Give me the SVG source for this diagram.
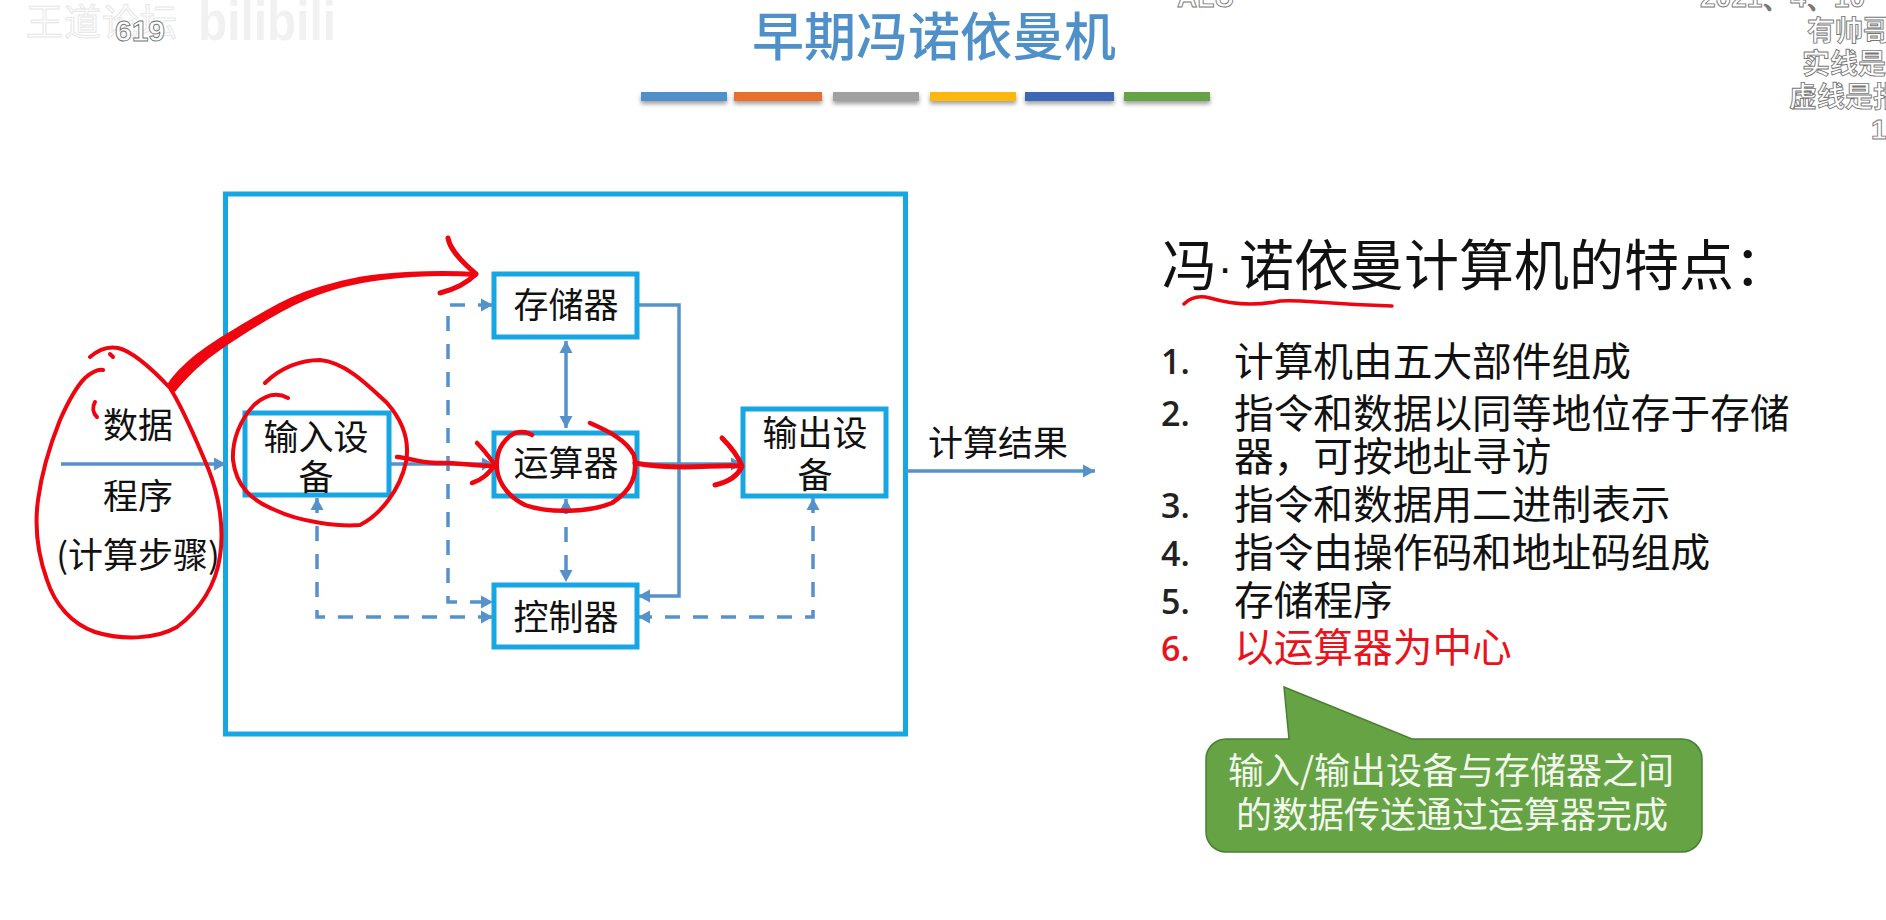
<svg xmlns="http://www.w3.org/2000/svg" width="1886" height="920" viewBox="0 0 1886 920">
<defs>
<style>
text{font-family:"Noto Sans CJK SC","Noto Sans",sans-serif;fill:#111}
.box{fill:#fff;stroke:#16a6e2;stroke-width:5}
.t35{font-size:35px;text-anchor:middle}
.li{font-size:39.7px}
.num{font-size:34px;font-family:"Open Sans","Liberation Sans",sans-serif;font-weight:600;fill:#222}
.ln{fill:none;stroke:#5592cc;stroke-width:3.5}
.da{stroke-dasharray:15 13}
.ar{marker-end:url(#ah)}
.ab{marker-start:url(#as);marker-end:url(#ah)}
.red{fill:none;stroke:#ee0510;stroke-width:4;stroke-linecap:round;stroke-linejoin:round}
.wm{fill:#fff;stroke:#777;stroke-width:.9;font-weight:700;font-size:28px}
.bar{filter:url(#sh)}
</style>
<marker id="ah" markerUnits="userSpaceOnUse" markerWidth="14" markerHeight="14" refX="12" refY="7" orient="auto"><path d="M0 0.5L12 7L0 13.5Z" fill="#5592cc"/></marker>
<marker id="as" markerUnits="userSpaceOnUse" markerWidth="14" markerHeight="14" refX="0" refY="7" orient="auto"><path d="M12 0.5L0 7L12 13.5Z" fill="#5592cc"/></marker>
<filter id="sh" x="-10%" y="-50%" width="120%" height="220%"><feDropShadow dx="0" dy="3" stdDeviation="2" flood-color="#777" flood-opacity=".7"/></filter>
</defs>
<rect width="1886" height="920" fill="#fff"/>

<g id="watermark">
<text x="26" y="36" style="font-size:37px;fill:#fff;stroke:#e6e6e6;stroke-width:1;letter-spacing:1px">王道论坛</text>
<text x="198" y="40" textLength="138" lengthAdjust="spacingAndGlyphs" style="font-family:'Liberation Sans',sans-serif;font-size:56px;font-weight:700;fill:#f1f1f1">bilibili</text>
<text x="115" y="41" class="wm" style="font-family:'Liberation Sans',sans-serif;font-size:30px">619</text>
<text x="1177" y="7" class="wm" style="font-family:'Liberation Sans',sans-serif">ALU</text>
<text x="1700" y="7" class="wm" style="font-family:'Liberation Sans',sans-serif">2021、4、10</text>
<text x="1807" y="41" class="wm">有帅哥</text>
<text x="1802" y="74" class="wm">实线是</text>
<text x="1789" y="107" class="wm">虚线是指</text>
<text x="1871" y="139" class="wm" style="font-family:'Liberation Sans',sans-serif">18</text>
</g>

<g id="title">
<text x="934" y="56" style="font-size:52px;font-weight:500;text-anchor:middle;fill:#5090c9">早期冯诺依曼机</text>
<rect class="bar" x="641" y="92" width="86" height="9" fill="#4f8fca"/>
<rect class="bar" x="734" y="92" width="88" height="9" fill="#e8702f"/>
<rect class="bar" x="833" y="92" width="86" height="9" fill="#a0a0a0"/>
<rect class="bar" x="930" y="92" width="86" height="9" fill="#fdb811"/>
<rect class="bar" x="1025" y="92" width="89" height="9" fill="#3c66b4"/>
<rect class="bar" x="1124" y="92" width="86" height="9" fill="#65a345"/>
</g>

<g id="computer"><rect x="225.500" y="194" width="680" height="540" fill="#fff" stroke="#16a6e2" stroke-width="5"/></g>

<g id="connectors">
<path class="ln ar" d="M61 464H226"/>
<path class="ln ar" d="M389 464H494"/>
<path class="ln ar" d="M637 464H743"/>
<path class="ln ar" d="M906 471H1095"/>
<path class="ln ar" d="M637 305H679V596H638"/>
<path class="ln ab" d="M566 341V428"/>
<path class="ln ab da" d="M566 499V582"/>
<path class="ln ab da" d="M493 305H448V602H493"/>
<path class="ln ab da" d="M317 498V617H493"/>
<path class="ln ab da" d="M813 498V617H638"/>
</g>

<g id="input-data">
<text x="138" y="438" class="t35">数据</text>
<text x="138" y="509" class="t35">程序</text>
<text x="138" y="568" class="t35">(计算步骤)</text>
</g>
<g id="node-input"><rect class="box" x="245" y="413" width="144" height="82"/><text x="316" y="450" class="t35">输入设</text><text x="316" y="490" class="t35">备</text></g>
<g id="node-memory"><rect class="box" x="494" y="274" width="143" height="63"/><text x="566" y="318" class="t35">存储器</text></g>
<g id="node-alu"><rect class="box" x="494" y="433" width="143" height="63"/><text x="566" y="476" class="t35">运算器</text></g>
<g id="node-control"><rect class="box" x="494" y="585" width="143" height="62"/><text x="566" y="630" class="t35">控制器</text></g>
<g id="node-output"><rect class="box" x="743" y="409" width="143" height="87"/><text x="815" y="446" class="t35">输出设</text><text x="815" y="488" class="t35">备</text></g>
<text x="998" y="456" class="t35">计算结果</text>

<g id="features">
<text x="1162" y="285" style="font-size:55px">冯</text>
<text x="1225" y="283" style="font-size:44px;text-anchor:middle;font-family:'Liberation Sans',sans-serif">·</text>
<text x="1239" y="285" style="font-size:55px">诺依曼计算机的特点：</text>
<text class="num" x="1161" y="374">1.</text><text class="li" x="1234" y="376">计算机由五大部件组成</text>
<text class="num" x="1161" y="426">2.</text><text class="li" x="1234" y="428">指令和数据以同等地位存于存储</text>
<text class="li" x="1234" y="471">器，可按地址寻访</text>
<text class="num" x="1161" y="518">3.</text><text class="li" x="1234" y="519">指令和数据用二进制表示</text>
<text class="num" x="1161" y="566">4.</text><text class="li" x="1234" y="567">指令由操作码和地址码组成</text>
<text class="num" x="1161" y="614">5.</text><text class="li" x="1234" y="615">存储程序</text>
<text class="num" x="1161" y="661" style="fill:#e8131b">6.</text><text class="li" x="1234" y="662" style="fill:#e8131b">以运算器为中心</text>
</g>

<g id="callout">
<path d="M1284 687L1412 739H1682a20 20 0 0 1 20 20V832a20 20 0 0 1-20 20H1226a20 20 0 0 1-20-20V759a20 20 0 0 1 20-20H1289Z" fill="#65a345" stroke="#4a7e32" stroke-width="1.500"/>
<text x="1451" y="784" style="font-size:36px;text-anchor:middle;fill:#f2f8ec">输入/输出设备与存储器之间</text>
<text x="1452" y="828" style="font-size:36px;text-anchor:middle;fill:#f2f8ec">的数据传送通过运算器完成</text>
</g>

<g id="annotations">
<path d="M166 386C178 368 196 352 226 334C256 316 278 302 304 292C330 283 352 277 380 274C410 271 445 270 477 272L477 277C445 275 412 276 382 280C352 284 332 289 308 299C282 310 260 324 232 342C204 360 188 376 175 392Z" fill="#ee0510"/>
<path class="red" style="stroke-width:5" d="M448 238C450 250 462 262 476 274C466 284 452 290 440 293"/>
<path class="red" d="M90 357C98 350 108 346 118 348C135 352 155 372 170 388C184 410 196 440 208 468C220 498 224 530 220 556C216 585 200 610 177 627C155 640 120 640 95 632C72 624 55 605 47 580C38 555 34 530 38 500C42 470 50 445 60 420C68 402 78 385 85 378C92 372 98 369 103 370"/>
<path class="red" d="M95 402C92 407 93 413 97 417"/>
<path class="red" d="M110 354L113 357"/>
<path class="red" d="M265 383C280 368 300 360 320 360C345 362 368 385 387 403C402 420 410 440 406 462C400 490 380 515 360 525C340 527 300 522 275 510C250 500 236 485 233 460C232 440 240 420 254 405C264 396 275 391 288 398"/>
<path class="red" style="stroke-width:4.500" d="M397 457C410 458 420 463 437 463C455 462 472 466 492 466"/>
<path class="red" style="stroke-width:4.500" d="M477 443C484 450 490 458 495 465C488 474 482 480 472 483"/>
<path class="red" style="stroke-width:4.500" d="M590 423C605 430 625 438 634 455C638 475 632 490 612 503C590 512 550 514 525 505C505 495 495 478 497 460C498 448 505 438 515 433C522 431 528 432 532 435"/>
<path class="red" style="stroke-width:5" d="M635 463C650 466 665 467 685 467C705 467 722 465 741 466"/>
<path class="red" style="stroke-width:5" d="M722 438C732 448 738 456 742 466C738 476 728 482 715 485"/>
<path class="red" style="stroke-width:3.500" d="M1184 304C1190 298 1198 295 1210 298C1230 304 1255 306 1280 301C1300 299 1320 304 1392 306"/>
</g>
</svg>
